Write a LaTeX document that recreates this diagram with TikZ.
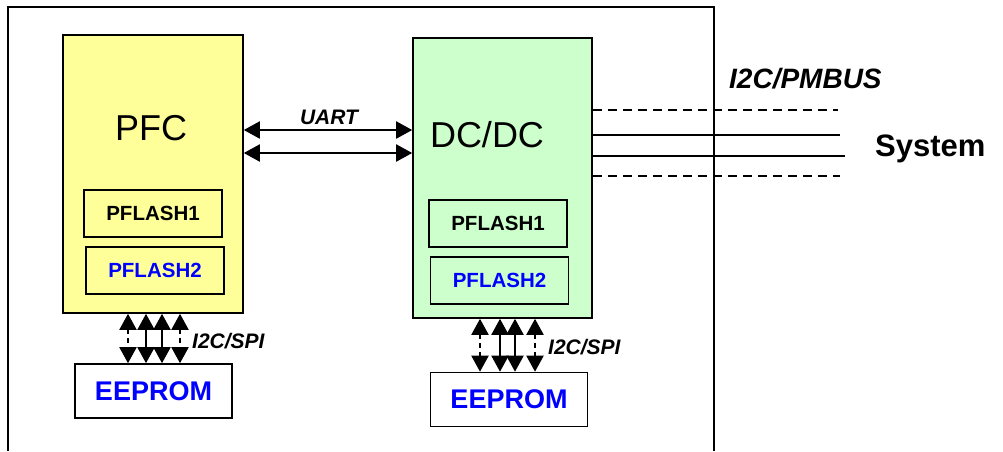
\documentclass[tikz,border=0pt]{standalone}
\usepackage{fontspec}
\setmainfont{Liberation Sans}
\usetikzlibrary{arrows.meta}

\definecolor{pfcyellow}{RGB}{255,255,153}
\definecolor{dcgreen}{RGB}{204,255,204}
\definecolor{memblue}{RGB}{0,0,255}

\tikzset{
	mcu/.style={draw, line width=1.6pt, inner sep=0pt},
	flash/.style={draw, line width=1.6pt, minimum width=138pt, minimum height=47pt, inner sep=0pt, font=\fontsize{20.5}{24}\selectfont\bfseries},
	eeprom/.style={draw, line width=1.6pt, minimum width=157pt, minimum height=54pt, inner sep=0pt, text=memblue, font=\fontsize{27}{32}\selectfont\bfseries},
	lbl/.style={inner sep=0pt, font=\fontsize{21}{25}\selectfont\bfseries\itshape},
	dbl/.style={line width=2pt, {Triangle[width=17pt,length=16pt]}-{Triangle[width=17pt,length=16pt]}},
	busline/.style={line width=1.5pt},
	busdash/.style={line width=1.5pt, dash pattern=on 9pt off 6pt},
	spidash/.style={dash pattern=on 5pt off 4pt}
}

\begin{document}
\begin{tikzpicture}[x=1pt,y=-1pt]
		\useasboundingbox (0,0) rectangle (1003,451);
		\draw[line width=1.5pt] (8,451) -- (8,7) -- (714,7) -- (714,451);

		% PFC side
		\draw (153,174) node[mcu, fill=pfcyellow, minimum width=180pt, minimum height=278pt] (pfc) {};
		\draw (151,140) node[anchor=base, font=\fontsize{36}{40}\selectfont] (pfcname) {PFC};
		\draw (153,213.5) node[flash] (flash1a) {PFLASH1};
		\draw (155,270.5) node[flash, text=memblue] (flash2a) {PFLASH2};
		\draw (153.5,391) node[eeprom] (eepa) {EEPROM};

		% DC/DC side
		\draw (502.5,178) node[mcu, fill=dcgreen, minimum width=179pt, minimum height=280pt] (dcdc) {};
		\draw (487,147) node[anchor=base, font=\fontsize{36}{40}\selectfont] (dcdcname) {DC/DC};
		\draw (498,223.5) node[flash] (flash1b) {PFLASH1};
		\draw (499.5,280.5) node[flash, text=memblue] (flash2b) {PFLASH2};
		\draw (509,399.5) node[eeprom] (eepb) {EEPROM};

		% UART
		\coordinate (u1) at (0,130);
		\coordinate (u2) at (0,153);
		\draw (329,124) node[lbl, anchor=base] (uart) {UART};
		\draw [dbl] (pfc.east |- u1) -- (dcdc.west |- u1);
		\draw [dbl] (pfc.east |- u2) -- (dcdc.west |- u2);

		% I2C/SPI to EEPROM
		\draw [dbl, spidash] ([xshift=-25pt]pfc.south) -- ([xshift=-25pt]pfc.south |- eepa.north);
		\draw [dbl] ([xshift=-7pt]pfc.south) -- ([xshift=-7pt]pfc.south |- eepa.north);
		\draw [dbl] ([xshift=9pt]pfc.south) -- ([xshift=9pt]pfc.south |- eepa.north);
		\draw [dbl, spidash] ([xshift=27pt]pfc.south) -- ([xshift=27pt]pfc.south |- eepa.north);
		\draw (192,348) node[lbl, anchor=base west] (spia) {I2C/SPI};

		\draw [dbl, spidash] ([xshift=-22.5pt]dcdc.south) -- ([xshift=-22.5pt]dcdc.south |- eepb.north);
		\draw [dbl] ([xshift=-2.5pt]dcdc.south) -- ([xshift=-2.5pt]dcdc.south |- eepb.north);
		\draw [dbl] ([xshift=12.5pt]dcdc.south) -- ([xshift=12.5pt]dcdc.south |- eepb.north);
		\draw [dbl, spidash] ([xshift=32.5pt]dcdc.south) -- ([xshift=32.5pt]dcdc.south |- eepb.north);
		\draw (548,354) node[lbl, anchor=base west] (spib) {I2C/SPI};

		% bus to the system
		\coordinate (pm1) at (838,110);
		\coordinate (sys1) at (840,135);
		\coordinate (sys2) at (845,156);
		\coordinate (pm2) at (840,176);
		\draw [busdash] (dcdc.east |- pm1) -- (pm1);
		\draw [busline] (dcdc.east |- sys1) -- (sys1);
		\draw [busline] (dcdc.east |- sys2) -- (sys2);
		\draw [busdash] (dcdc.east |- pm2) -- (pm2);
		\draw (729,88) node[lbl, anchor=base west, font=\fontsize{28}{32}\selectfont\bfseries\itshape] (pmbus) {I2C/PMBUS};
		\draw (875,156) node[anchor=base west, inner sep=0pt, font=\fontsize{31}{36}\selectfont\bfseries] (system) {System};
	\end{tikzpicture}
\end{document}
